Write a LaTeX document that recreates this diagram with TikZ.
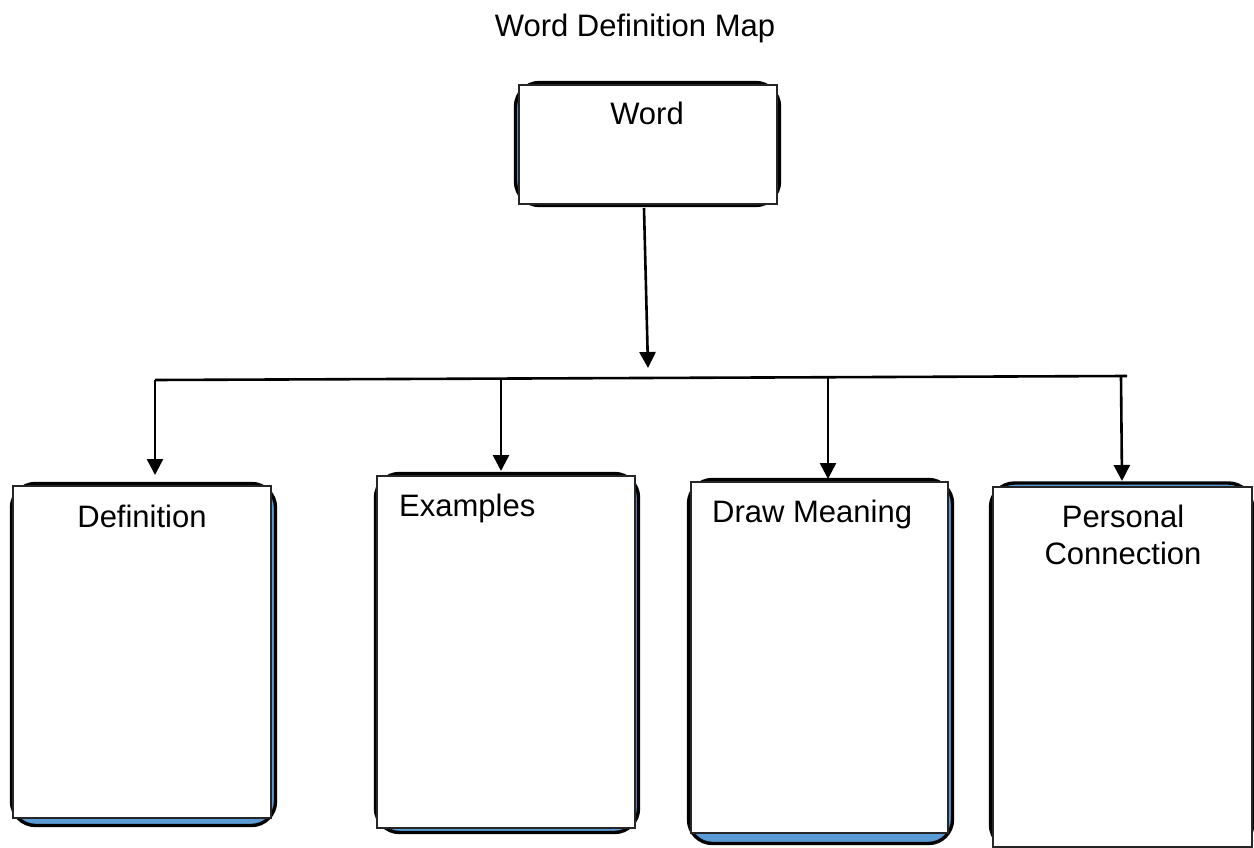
\documentclass[tikz,border=0pt]{standalone}
\usepackage{fontspec}
\setmainfont{Liberation Sans}
\usetikzlibrary{arrows.meta}
\definecolor{boxblue}{HTML}{5B9BD5}
\begin{document}
\begin{tikzpicture}[x=1pt,y=-1pt,
  backbox/.style={draw=black, line width=3.4pt, fill=boxblue, rounded corners=24pt, inner sep=0pt, outer sep=0pt},
  paper/.style={draw=black!85, line width=1.4pt, fill=white, inner sep=0pt, outer sep=0pt},
  lbl/.style={font=\fontsize{31}{37}\selectfont, inner sep=0pt, anchor=base},
  conn/.style={line width=2.6pt, -{Triangle[width=16pt,length=16pt]}},
  busline/.style={line width=2.6pt}
]
\useasboundingbox (0,0) rectangle (1254,848);
\begin{scope}
\clip (0,0) rectangle (1254,848);
% title
\node[lbl] (title) at (635,37) {Word Definition Map};

% Word box
\node[backbox, minimum width=264pt, minimum height=123pt] (wordback) at (647.5,144) {};
\node[paper, minimum width=258pt, minimum height=119pt] (wordpaper) at (648,144.5) {};
\node[lbl] (wordtxt) at (647,125) {Word};

% Definition
\node[backbox, minimum width=264pt, minimum height=342pt] (defback) at (143.5,654.5) {};
\node[paper, minimum width=258pt, minimum height=332pt] (defpaper) at (142,652) {};
\node[lbl] (deftxt) at (142,527) {Definition};

% Examples
\node[backbox, minimum width=263pt, minimum height=359pt] (exback) at (507,653) {};
\node[paper, minimum width=258pt, minimum height=352pt] (expaper) at (506,652) {};
\node[lbl, anchor=base west] (extxt) at (399,516) {Examples};

% Draw Meaning
\node[backbox, minimum width=264pt, minimum height=364pt] (drback) at (820.5,661.5) {};
\node[paper, minimum width=257pt, minimum height=351pt] (drpaper) at (819.5,657.5) {};
\node[lbl, anchor=base west] (drtxt) at (712,522) {Draw Meaning};

% Personal Connection
\node[backbox, minimum width=262pt, minimum height=366pt] (pcback) at (1121.5,666) {};
\node[paper, minimum width=259pt, minimum height=360pt] (pcpaper) at (1122.5,667) {};
\node[lbl] (pctxt1) at (1123,527) {Personal};
\node[lbl] (pctxt2) at (1123,564) {Connection};
\end{scope}

% connectors
\coordinate (wordout) at (644,208);
\coordinate (hub) at (648,368);
\coordinate (busL) at (155,380);
\coordinate (busR) at (1127,376);
\coordinate (dEx) at (501,379);
\coordinate (dDr) at (828,378);
\coordinate (dPc) at (1121,377);
\coordinate (tipDef) at (155,475);
\coordinate (tipEx) at (501,471);
\coordinate (tipDr) at (828,479);
\coordinate (tipPc) at (1122,481);

\draw[conn] (wordout) -- (hub);
\draw[busline] (busL) -- (busR);
\draw[conn] (busL) -- (tipDef);
\draw[conn] (dEx) -- (tipEx);
\draw[conn] (dDr) -- (tipDr);
\draw[conn] (dPc) -- (tipPc);
\end{tikzpicture}
\end{document}
